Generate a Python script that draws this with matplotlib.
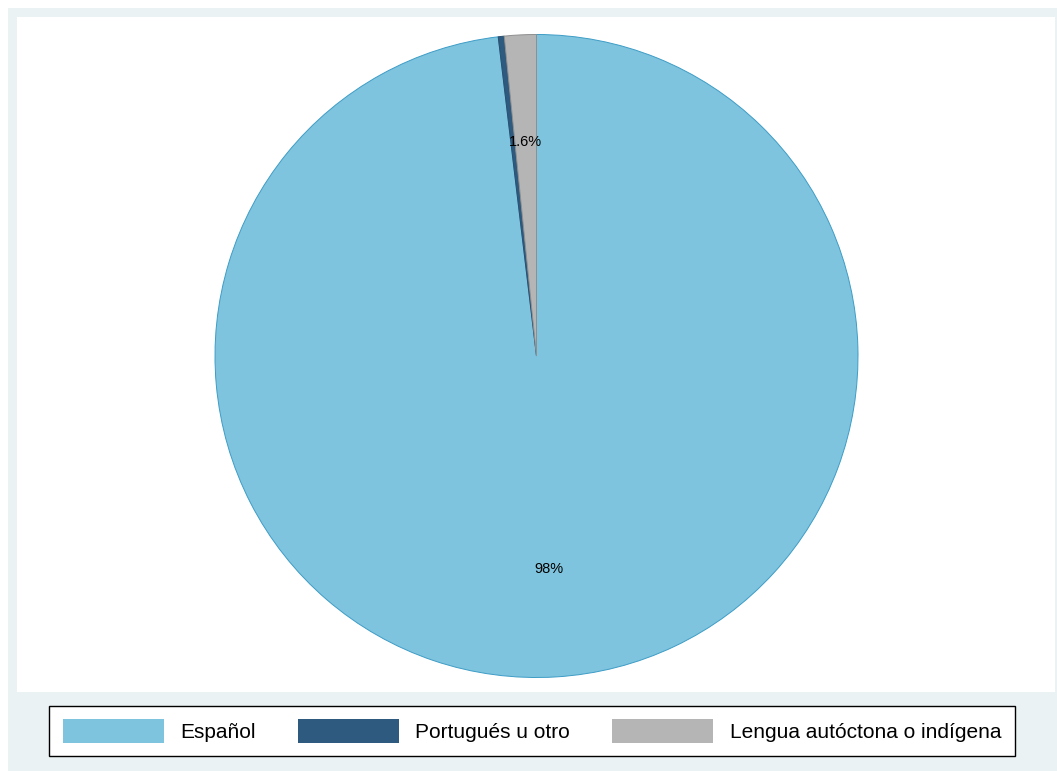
import matplotlib
matplotlib.use("Agg")
import matplotlib.pyplot as plt
from matplotlib.patches import Rectangle

categories = ["Español", "Portugués u otro", "Lengua autóctona o indígena"]
values = [98.1, 0.3, 1.6]
pct_labels = ["98%", "", "1.6%"]
colors = ["#7fc4de", "#2e5a80", "#b5b5b5"]
edge_colors = ["#3d9cc6", "#2a4f70", "#8f8f8f"]

W, H = 1057, 771
plt.rcParams['font.family'] = ['Liberation Sans', 'DejaVu Sans']
fig = plt.figure(figsize=(W / 100, H / 100), dpi=100, facecolor="white")

def px_rect(x0, y0, x1, y1, color):
    fig.patches.append(Rectangle((x0 / W, 1 - y1 / H), (x1 - x0) / W, (y1 - y0) / H,
                                 transform=fig.transFigure, facecolor=color,
                                 edgecolor="none", zorder=-10))

px_rect(8, 8, W, H, "#eaf2f3")
px_rect(17, 17, 1055, 692, "white")

cx, cy, r = 536.5, 356, 321.5
ax = fig.add_axes([(cx - r) / W, (H - cy - r) / H, 2 * r / W, 2 * r / H])
ax.set_facecolor("none")
wedges, texts = ax.pie(values, colors=colors, startangle=90, counterclock=False,
                       labels=pct_labels, labeldistance=0.665,
                       wedgeprops=dict(linewidth=0.7),
                       textprops=dict(fontsize=10.5, color="black"))
for w, ec in zip(wedges, edge_colors):
    w.set_edgecolor(ec)
for t in texts:
    t.set_ha("center")
    t.set_va("center")
ax.set_xlim(-1, 1)
ax.set_ylim(-1, 1)
ax.set_aspect("equal")
ax.axis("off")

fs = 15
leg = fig.legend(wedges, categories, loc="center",
                 bbox_to_anchor=(532 / W, 1 - 731 / H),
                 ncol=3, fontsize=fs, frameon=True, fancybox=False, framealpha=1,
                 handlelength=4.85, handleheight=1.35, handletextpad=0.8,
                 columnspacing=2.0, borderpad=0.65)
leg.get_frame().set_edgecolor("black")
leg.get_frame().set_facecolor("white")
leg.get_frame().set_linewidth(1.0)
for h, c in zip(leg.legend_handles, colors):
    h.set_edgecolor("none")
    h.set_facecolor(c)

fig.savefig("out.png", dpi=100, facecolor="white")
